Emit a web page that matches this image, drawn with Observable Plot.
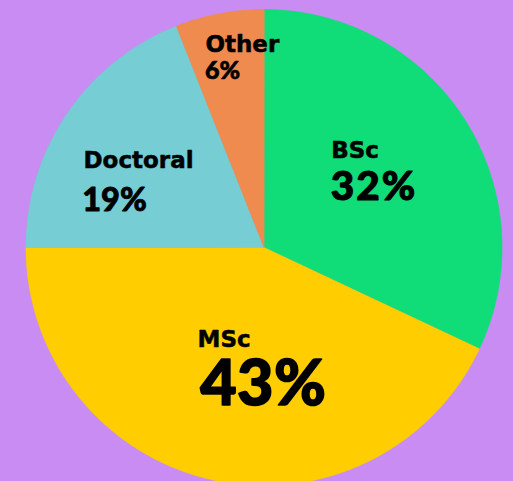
<!DOCTYPE html>
<html><head><meta charset="utf-8">
<script src="https://cdn.jsdelivr.net/npm/d3@7"></script>
<script src="https://cdn.jsdelivr.net/npm/@observablehq/plot@0.6"></script>
<style>
html,body{margin:0;padding:0;background:#c88cf2;overflow:hidden;}
</style></head><body><div id="chart"></div>
<script>
// ---- data ----
const categories = ["BSc", "MSc", "Doctoral", "Other"];
const values = [32, 43, 19, 6];
const colors = ["#10dc78", "#ffcd00", "#76cdd4", "#ef8b4f"];

// ---- label styling (offsets in px from each slice's label anchor, font sizes) ----
const labelStyle = {
  BSc:      {ndx: -53.4, ndy: -13.2, pdx: -53.8, pdy: 29.5, pSize: 40.5, pSpace: 2},
  MSc:      {ndx: -35.3, ndy: -39.7, pdx: -32.7, pdy: 18.6, pSize: 62.8, pSpace: 0.5},
  Doctoral: {ndx: -62.4, ndy: 0.6,   pdx: -63.7, pdy: 43.3, pSize: 32.5, pSpace: 0},
  Other:    {ndx: -31.8, ndy: -55.0, pdx: -32.2, pdy: -28.4, pSize: 25, pSpace: 0}
};

// ---- geometry from data ----
const total = d3.sum(values);
let acc = 0;
const slices = categories.map((c, i) => {
  const a0 = acc / total * 2 * Math.PI;
  acc += values[i];
  const a1 = acc / total * 2 * Math.PI;
  return {category: c, value: values[i], a0, a1};
});
const slicePoints = slices.flatMap(s => {
  const n = Math.max(2, Math.ceil((s.a1 - s.a0) / (Math.PI / 360)));
  const pts = [{category: s.category, x: 0, y: 0}];
  for (let k = 0; k <= n; k++) {
    const a = s.a0 + (s.a1 - s.a0) * k / n;
    pts.push({category: s.category, x: Math.sin(a), y: Math.cos(a)});
  }
  return pts;
});
const labels = slices.map(s => {
  const mid = (s.a0 + s.a1) / 2;
  return {category: s.category, value: s.value, x: 0.6 * Math.sin(mid), y: 0.6 * Math.cos(mid)};
});

const labelMarks = labels.flatMap(l => {
  const st = labelStyle[l.category];
  return [
    Plot.text([l], {x: "x", y: "y", text: d => d.category, dx: st.ndx, dy: st.ndy,
      textAnchor: "start", lineAnchor: "bottom", fontSize: 23,
      fontFamily: "DejaVu Sans", fontWeight: "bold", fill: "#000",
      stroke: "#000", strokeWidth: 0.5}),
    Plot.text([l], {x: "x", y: "y", text: d => d.value + "%", dx: st.pdx, dy: st.pdy,
      textAnchor: "start", lineAnchor: "bottom", fontSize: st.pSize,
      fontFamily: "Lato", fontWeight: 900, fill: "#000",
      stroke: "#000", strokeWidth: st.pSize / 40,
      render(index, scales, values, dimensions, context, next) {
        const g = next(index, scales, values, dimensions, context);
        g.setAttribute("letter-spacing", st.pSpace);
        return g;
      }})
  ];
});

const chart = Plot.plot({
  width: 513,
  height: 481,
  x: {domain: [-1, 1], range: [25.5, 501.5], axis: null},
  y: {domain: [-1, 1], range: [485, 9], axis: null},
  color: {domain: categories, range: colors},
  style: {background: "#c88cf2", overflow: "hidden"},
  marks: [
    Plot.line(slicePoints, {x: "x", y: "y", z: "category", fill: "category", stroke: "category",
      strokeWidth: 0.6, curve: "linear-closed"}),
    ...labelMarks
  ]
});
document.getElementById("chart").appendChild(chart);
</script>
</body></html>
